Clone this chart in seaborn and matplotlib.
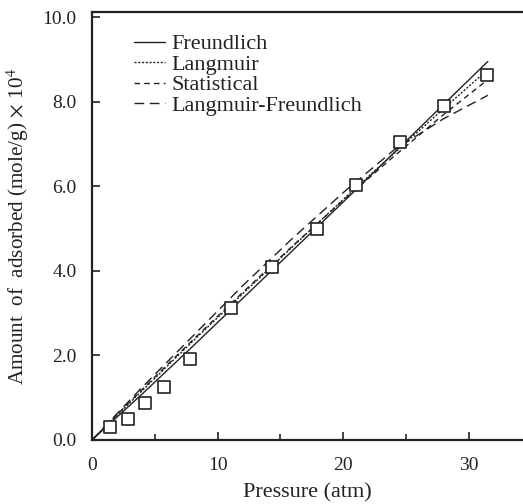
import matplotlib
matplotlib.use("Agg")
import matplotlib.pyplot as plt
import pandas as pd
import seaborn as sns

# measured points (squares)
pressure_obs = [1.4, 2.9, 4.2, 5.7, 7.8, 11.1, 14.3, 17.9, 21.0, 24.5, 28.0, 31.4]
amount_obs = [0.31, 0.50, 0.88, 1.26, 1.92, 3.13, 4.10, 5.00, 6.02, 7.04, 7.89, 8.63]

# fitted curves
pressure_fit = [0, 4, 8, 12, 16, 20, 24, 28, 31.5]
freundlich = [0.0, 1.09, 2.21, 3.35, 4.49, 5.63, 6.78, 7.94, 8.95]
langmuir = [0.0, 1.17, 2.33, 3.46, 4.58, 5.69, 6.77, 7.84, 8.76]
statistical = [0.0, 1.20, 2.36, 3.49, 4.60, 5.67, 6.70, 7.70, 8.52]
langmuir_freundlich = [0.0, 1.25, 2.45, 3.65, 4.78, 5.85, 6.85, 7.60, 8.15]

models = ["Freundlich", "Langmuir", "Statistical", "Langmuir-Freundlich"]
fits = [freundlich, langmuir, statistical, langmuir_freundlich]

rows = []
for name, vals in zip(models, fits):
    for p, q in zip(pressure_fit, vals):
        rows.append({"Pressure": p, "Amount": q, "Model": name})
fit_df = pd.DataFrame(rows)
obs_df = pd.DataFrame({"Pressure": pressure_obs, "Amount": amount_obs})

sns.set_style("ticks")
plt.rcParams["font.family"] = ["Liberation Serif", "DejaVu Serif"]
plt.rcParams["mathtext.fontset"] = "stix"

ink = "#222222"
fig = plt.figure(figsize=(5.23, 5.04), dpi=100)
ax = fig.add_axes([92 / 523, 64 / 504, 1 - 92 / 523, (440 - 12) / 504])

dashes = {
    "Freundlich": "",
    "Langmuir": (1.5, 1.2),
    "Statistical": (4, 3),
    "Langmuir-Freundlich": (7, 4),
}
sns.lineplot(data=fit_df, x="Pressure", y="Amount", style="Model",
             style_order=models, dashes=dashes, color=ink, linewidth=1.0,
             ax=ax)
sns.scatterplot(data=obs_df, x="Pressure", y="Amount", marker="s", s=65,
                facecolor="white", edgecolor=ink, linewidth=1.2, zorder=5,
                ax=ax, legend=False)

ax.set_xlim(0, 34.3)
ax.set_ylim(0, 10.12)
ax.set_xticks([0, 10, 20, 30])
ax.set_xticks([5, 15, 25], minor=True)
ax.set_yticks([0, 2, 4, 6, 8, 10])
ax.set_yticklabels(["0.0", "2.0", "4.0", "6.0", "8.0", "10.0"])
ax.tick_params(axis="both", which="major", direction="in", length=6,
               width=1.2, labelsize=14, colors=ink)
ax.tick_params(axis="x", which="minor", direction="in", length=4, width=1.2)
ax.tick_params(axis="x", which="major", pad=12)
ax.tick_params(axis="y", which="major", pad=11)
for side in ["left", "bottom", "top"]:
    ax.spines[side].set_linewidth(1.6)
    ax.spines[side].set_color(ink)
ax.spines["right"].set_visible(False)

ax.set_xlabel("Pressure (atm)", fontsize=16, color=ink, labelpad=7)
ax.set_ylabel(r"Amount  of  adsorbed (mole/g)$\,\times\,$10$^4$",
              fontsize=15.2, color=ink, labelpad=8)

leg = ax.legend(loc="upper left", bbox_to_anchor=(0.077, 0.97), frameon=False,
                fontsize=16, handlelength=1.4, handletextpad=0.3,
                labelspacing=0.0, borderaxespad=0)
for h in leg.get_lines():
    h.set_linewidth(1.0)
for t in leg.get_texts():
    t.set_color(ink)

fig.savefig("out.png", dpi=100)
